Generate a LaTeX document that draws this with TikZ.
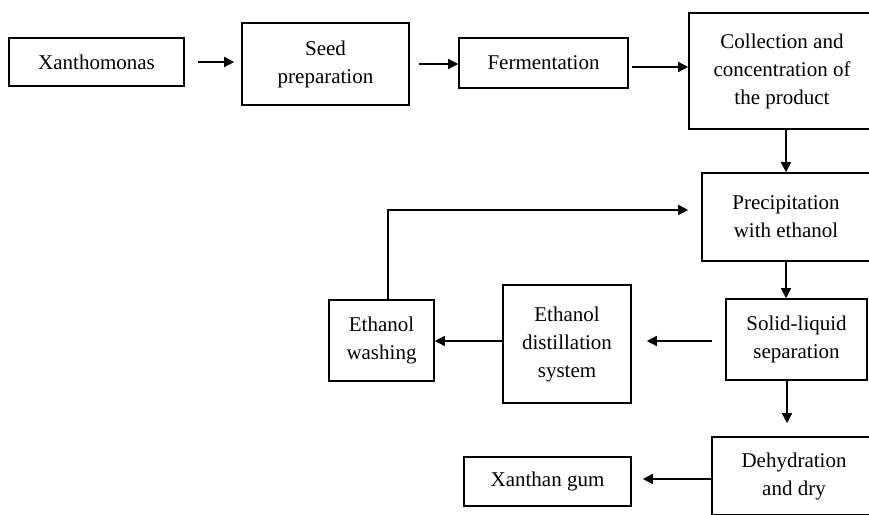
\documentclass[tikz,border=0pt]{standalone}
\usepackage{fontspec}
\setmainfont{Liberation Serif}
\usepackage{tikz}
\usetikzlibrary{arrows.meta, positioning, calc}

\begin{document}
\begin{tikzpicture}[
      x=1pt, y=-1pt,
      font=\fontsize{21}{28}\selectfont,
      box/.style={draw, line width=1.6pt, inner sep=0pt, align=center},
      flow/.style={-{Triangle[length=10pt, width=10pt]}, line width=1.5pt},
    ]
    \useasboundingbox (0,0) rectangle (869,514);
    \clip (0,0) rectangle (869,514);
    \node[box, minimum width=175, minimum height=48] (xan) at (96.5,62) {Xanthomonas};
    \node[box, minimum width=167, minimum height=82] (seed) at (325.5,64) {Seed\\preparation};
    \node[box, minimum width=169, minimum height=50] (ferm) at (543.5,63) {Fermentation};
    \node[box, minimum width=186, minimum height=116] (coll) at (782,71) {Collection and\\concentration of\\the product};
    \node[box, minimum width=168, minimum height=88] (prec) at (786,217) {Precipitation\\with ethanol};
    \node[box, minimum width=141, minimum height=81] (sol) at (796.5,339.5) {Solid-liquid\\separation};
    \node[box, minimum width=128, minimum height=118] (dist) at (567,344) {Ethanol\\distillation\\system};
    \node[box, minimum width=105, minimum height=81] (wash) at (381.5,340.5) {Ethanol\\washing};
    \node[box, minimum width=164, minimum height=78] (dehy) at (794,476) {Dehydration\\and dry};
    \node[box, minimum width=167, minimum height=49] (gum) at (547.5,481.5) {Xanthan gum};
    % top row
    \draw[flow, shorten <=13pt, shorten >=7pt] (xan.east) -- (xan.east -| seed.west);
    \draw[flow, shorten <=9pt] (seed.east) -- (seed.east -| ferm.west);
    \draw[flow, shorten <=3pt] ([yshift=-4pt]ferm.east) -- ([yshift=-4pt]ferm.east -| coll.west);
    % right column
    \draw[flow] (prec.north |- coll.south) -- (prec.north);
    \draw[flow] (prec.south) -- (prec.south |- sol.north);
    \draw[flow, shorten >=13pt] ([xshift=-9.5pt]sol.south) -- ([xshift=-9.5pt]sol.south |- dehy.north);
    % ethanol loop
    \draw[flow, shorten <=13pt, shorten >=15pt] ([yshift=-1.5pt]sol.west) -- ([yshift=-1.5pt]sol.west -| dist.east);
    \draw[flow] ([yshift=3pt]dist.west) -- ([yshift=3pt]dist.west -| wash.east);
    \draw[flow, shorten >=13pt] ([xshift=6.5pt]wash.north) |- ([yshift=7pt]prec.west);
    \draw[flow, shorten >=11pt] ([yshift=-3pt]dehy.west) -- ([yshift=-3pt]dehy.west -| gum.east);
  \end{tikzpicture}
\end{document}
